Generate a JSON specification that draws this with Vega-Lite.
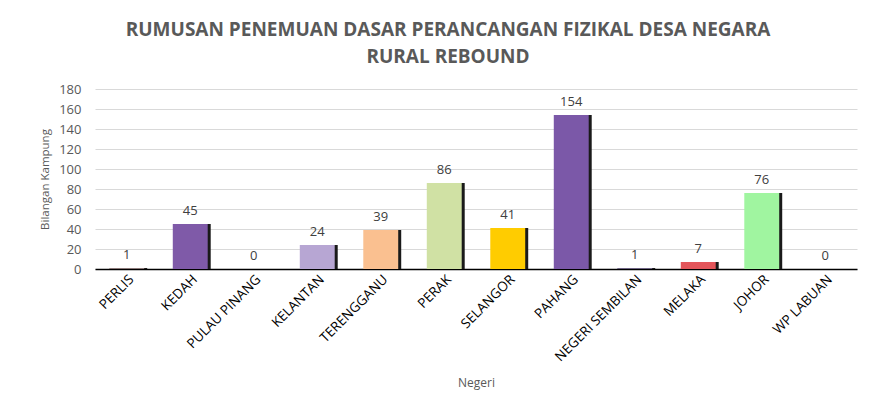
{
  "$schema": "https://vega.github.io/schema/vega-lite/v6.json",
  "autosize": "none",
  "width": 762,
  "height": 180,
  "padding": {"left": 95, "top": 89, "right": 19, "bottom": 142},
  "background": "white",
  "config": {
    "font": "Open Sans",
    "view": {"stroke": null}
  },
  "title": {
    "text": ["RUMUSAN PENEMUAN DASAR PERANCANGAN FIZIKAL DESA NEGARA", "RURAL REBOUND"],
    "fontSize": 19,
    "fontWeight": "bold",
    "color": "#595959",
    "font": "Open Sans",
    "anchor": "middle",
    "dx": -28,
    "lineHeight": 27,
    "offset": 16
  },
  "data": {
    "values": [
      {"negeri": "PERLIS", "bilangan": 1},
      {"negeri": "KEDAH", "bilangan": 45},
      {"negeri": "PULAU PINANG", "bilangan": 0},
      {"negeri": "KELANTAN", "bilangan": 24},
      {"negeri": "TERENGGANU", "bilangan": 39},
      {"negeri": "PERAK", "bilangan": 86},
      {"negeri": "SELANGOR", "bilangan": 41},
      {"negeri": "PAHANG", "bilangan": 154},
      {"negeri": "NEGERI SEMBILAN", "bilangan": 1},
      {"negeri": "MELAKA", "bilangan": 7},
      {"negeri": "JOHOR", "bilangan": 76},
      {"negeri": "WP LABUAN", "bilangan": 0}
    ]
  },
  "encoding": {
    "x": {
      "field": "negeri",
      "type": "nominal",
      "sort": null,
      "scale": {"paddingInner": 0.45, "paddingOuter": 0.225},
      "axis": {
        "title": "Negeri",
        "titleFont": "Open Sans",
        "titleFontSize": 12,
        "titleFontWeight": "normal",
        "titleColor": "#595959",
        "titlePadding": 14,
        "labelAngle": -45,
        "labelFontSize": 13.5,
        "labelColor": "#000000",
        "labelPadding": 3,
        "ticks": false,
        "domainColor": "#000000",
        "domainWidth": 1.5,
        "labelOverlap": false
      }
    },
    "y": {
      "field": "bilangan",
      "type": "quantitative",
      "scale": {"domain": [0, 180], "nice": false},
      "axis": {
        "title": "Bilangan Kampung",
        "titleFont": "Open Sans",
        "titleFontSize": 11.5,
        "titleFontWeight": "normal",
        "titleColor": "#595959",
        "titlePadding": 8,
        "values": [0, 20, 40, 60, 80, 100, 120, 140, 160, 180],
        "labelFontSize": 13,
        "labelColor": "#595959",
        "labelPadding": 14,
        "ticks": false,
        "domain": false,
        "gridColor": "#D9D9D9",
        "gridWidth": 1
      }
    }
  },
  "layer": [
    {
      "mark": {"type": "bar", "color": "#1a1a1a", "xOffset": 3},
      "encoding": {}
    },
    {
      "mark": {"type": "bar"},
      "encoding": {
        "color": {
          "field": "negeri",
          "type": "nominal",
          "legend": null,
          "scale": {
            "domain": ["PERLIS", "KEDAH", "PULAU PINANG", "KELANTAN", "TERENGGANU", "PERAK", "SELANGOR", "PAHANG", "NEGERI SEMBILAN", "MELAKA", "JOHOR", "WP LABUAN"],
            "range": ["#8C7A7A", "#7F5AA8", "#4F81BD", "#B7A6D3", "#FAC090", "#D0E1A4", "#FFCC00", "#7B58A8", "#6F6685", "#E3555A", "#A0F5A0", "#999999"]
          }
        }
      }
    },
    {
      "mark": {"type": "text", "baseline": "bottom", "dy": -6, "fontSize": 13, "color": "#404040", "font": "Open Sans"},
      "encoding": {"text": {"field": "bilangan", "type": "quantitative"}}
    }
  ]
}
